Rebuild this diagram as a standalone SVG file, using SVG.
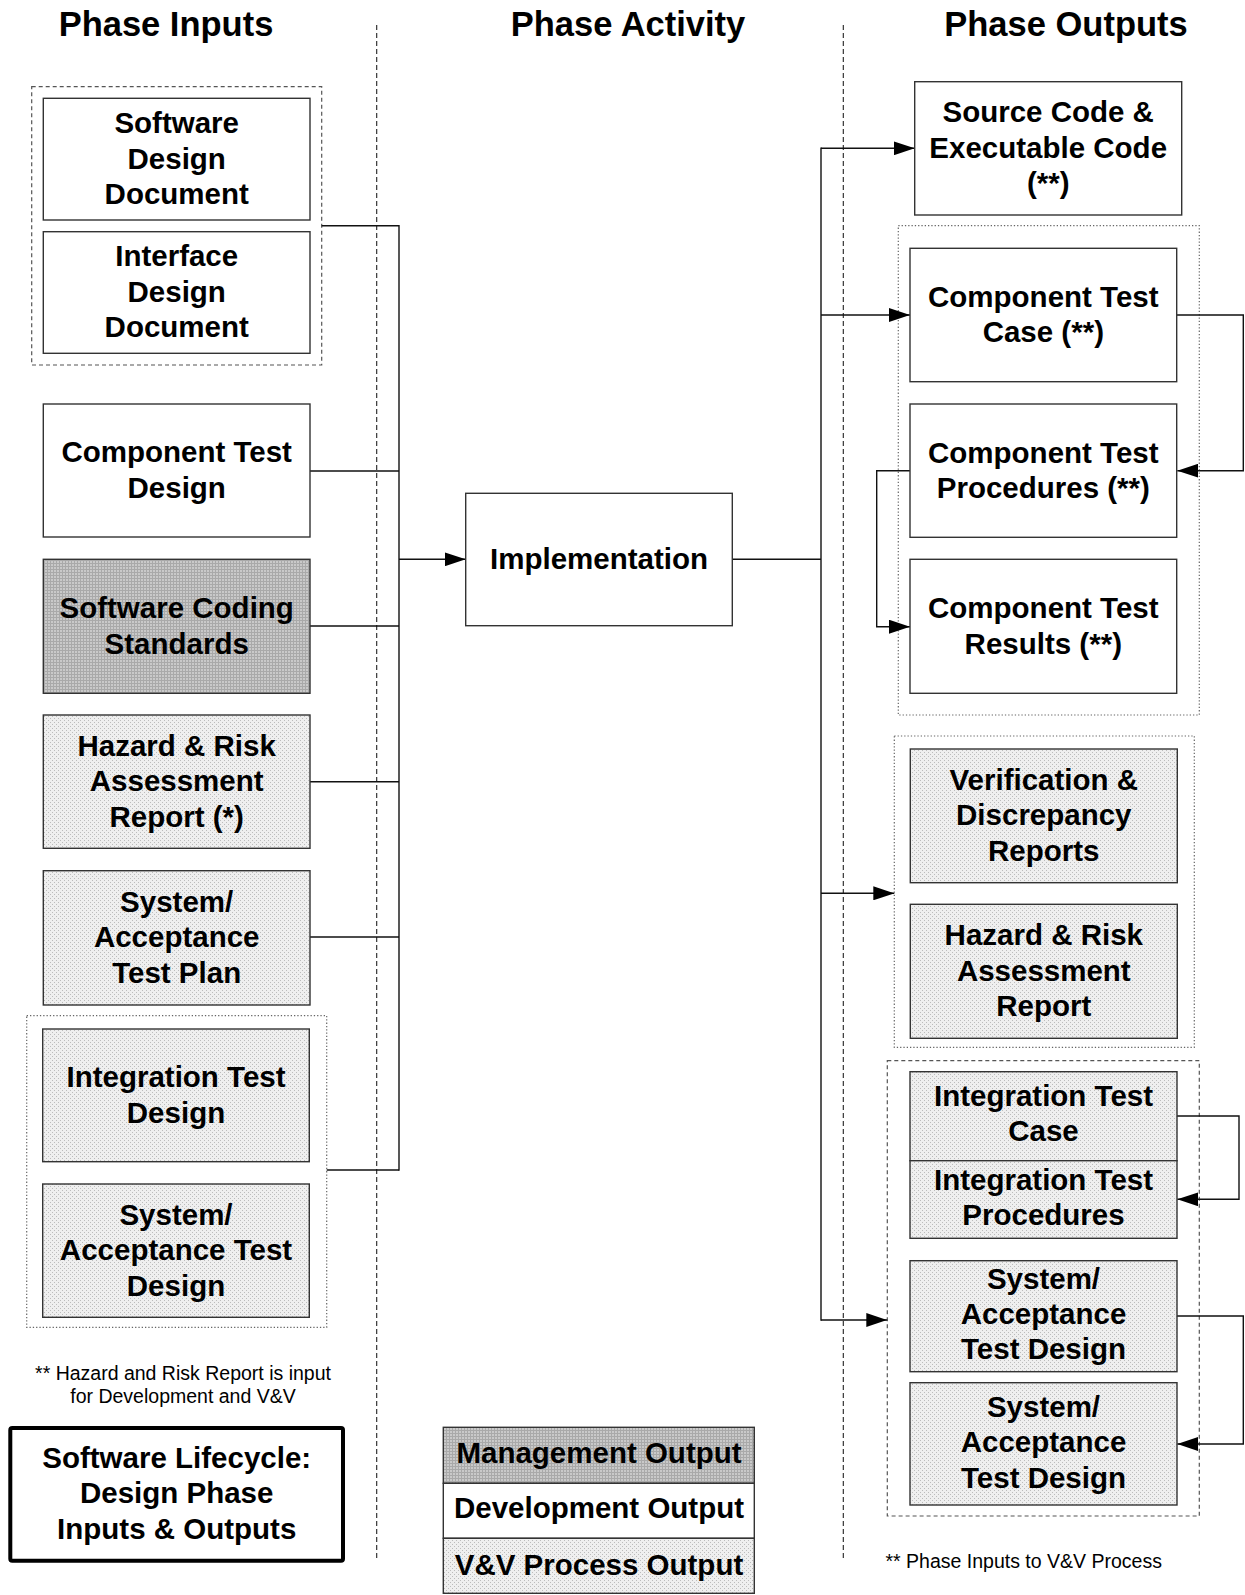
<svg xmlns="http://www.w3.org/2000/svg" width="1245" height="1595" viewBox="0 0 1245 1595">
  <style>
    .box { stroke: #333; stroke-width: 1.4; }
    .dev { fill: #fff; }
    .mgmt { fill: url(#pMgmt); }
    .vv { fill: url(#pVV); }
    .lbl { font-family: "Liberation Sans", Arial, sans-serif; font-weight: bold; font-size: 29.5px; text-anchor: middle; fill: #000; }
    .hdr { font-family: "Liberation Sans", Arial, sans-serif; font-weight: bold; font-size: 34.5px; text-anchor: middle; fill: #000; }
    .note { font-family: "Liberation Sans", Arial, sans-serif; font-size: 19.5px; text-anchor: middle; fill: #000; }
    .divider { stroke: #222; stroke-width: 1.1; stroke-dasharray: 5 3; fill: none; }
    .grp-dash { stroke: #555; stroke-width: 1.2; stroke-dasharray: 4 3; fill: none; }
    .grp-dot { stroke: #666; stroke-width: 1.2; stroke-dasharray: 1.3 2; fill: none; }
    .wire { stroke: #111; stroke-width: 1.4; fill: none; }
    .arrow { stroke: #111; stroke-width: 1.4; fill: none; marker-end: url(#head); }
  </style>
  <defs>
    <pattern id="pMgmt" width="3" height="3" patternUnits="userSpaceOnUse">
      <rect width="3" height="3" fill="#a9a9a9"/>
      <rect width="2" height="2" fill="#c9c9c9"/>
    </pattern>
    <pattern id="pVV" width="4" height="4" patternUnits="userSpaceOnUse">
      <rect width="4" height="4" fill="#efefef"/>
      <rect x="0" y="0" width="1" height="1" fill="#bcbcbc"/>
      <rect x="2" y="2" width="1" height="1" fill="#bcbcbc"/>
    </pattern>
    <marker id="head" markerUnits="userSpaceOnUse" markerWidth="21" markerHeight="14" refX="21" refY="7" orient="auto">
      <path d="M0,0 L21,7 L0,14 z" fill="#000"/>
    </marker>
  </defs>

  <rect width="1245" height="1595" fill="#fff"/>

  <!-- column headings and dividers -->
  <g id="headings">
    <text class="hdr" x="166" y="36">Phase Inputs</text>
    <text class="hdr" x="628" y="36">Phase Activity</text>
    <text class="hdr" x="1066" y="36">Phase Outputs</text>
    <line class="divider" x1="376.7" y1="25" x2="376.7" y2="1558"/>
    <line class="divider" x1="843.3" y1="25" x2="843.3" y2="1560"/>
  </g>

  <!-- grouping frames -->
  <g id="groups">
    <rect class="grp-dash" x="31.7" y="86.7" width="290" height="278.3"/>
    <rect class="grp-dot" x="26.7" y="1015.7" width="300" height="311.6"/>
    <rect class="grp-dot" x="898.3" y="225.7" width="301" height="489.3"/>
    <rect class="grp-dot" x="894.3" y="736" width="300" height="311.3"/>
    <rect class="grp-dash" x="887.3" y="1060.7" width="312" height="455.3"/>
  </g>

  <!-- connectors -->
  <g id="connectors">
    <!-- input bus -->
    <line class="wire" x1="321.7" y1="225.7" x2="399" y2="225.7"/>
    <line class="wire" x1="310" y1="471" x2="399" y2="471"/>
    <line class="wire" x1="310" y1="626" x2="399" y2="626"/>
    <line class="wire" x1="310" y1="781.7" x2="399" y2="781.7"/>
    <line class="wire" x1="310" y1="937" x2="399" y2="937"/>
    <line class="wire" x1="326.7" y1="1170" x2="399" y2="1170"/>
    <line class="wire" x1="399" y1="225" x2="399" y2="1170.7"/>
    <line class="arrow" x1="399" y1="559.3" x2="465.7" y2="559.3"/>
    <!-- output bus -->
    <line class="wire" x1="732.3" y1="559.3" x2="821" y2="559.3"/>
    <line class="wire" x1="821" y1="147.6" x2="821" y2="1320.7"/>
    <line class="arrow" x1="821" y1="148.3" x2="914.7" y2="148.3"/>
    <line class="arrow" x1="821" y1="315" x2="910" y2="315"/>
    <line class="arrow" x1="821" y1="893.3" x2="894.3" y2="893.3"/>
    <line class="arrow" x1="821" y1="1320" x2="887.3" y2="1320"/>
    <!-- component test flow -->
    <path class="arrow" d="M1176.7,315 H1243.3 V470.7 H1177.3"/>
    <path class="arrow" d="M910,470.7 H876.7 V626.7 H910"/>
    <!-- integration / system test flow -->
    <path class="arrow" d="M1177,1116 H1239 V1199.3 H1177.3"/>
    <path class="arrow" d="M1177,1316 H1243.3 V1444 H1177.3"/>
  </g>

  <!-- phase inputs -->
  <g id="in-sdd">
    <rect class="box dev" x="43.3" y="98.3" width="266.7" height="121.7"/>
    <text class="lbl" x="176.7"><tspan x="176.7" y="133.2">Software</tspan><tspan x="176.7" y="168.7">Design</tspan><tspan x="176.7" y="204.2">Document</tspan></text>
  </g>
  <g id="in-idd">
    <rect class="box dev" x="43.3" y="231.7" width="266.7" height="121.6"/>
    <text class="lbl" x="176.7"><tspan x="176.7" y="266">Interface</tspan><tspan x="176.7" y="301.5">Design</tspan><tspan x="176.7" y="337">Document</tspan></text>
  </g>
  <g id="in-ctd">
    <rect class="box dev" x="43.3" y="404" width="266.7" height="133"/>
    <text class="lbl" x="176.7"><tspan x="176.7" y="462.3">Component Test</tspan><tspan x="176.7" y="497.8">Design</tspan></text>
  </g>
  <g id="in-scs">
    <rect class="box mgmt" x="43.3" y="559.3" width="266.7" height="134"/>
    <text class="lbl" x="176.7"><tspan x="176.7" y="618.1">Software Coding</tspan><tspan x="176.7" y="653.6">Standards</tspan></text>
  </g>
  <g id="in-hazard">
    <rect class="box vv" x="43.3" y="715" width="266.7" height="133.3"/>
    <text class="lbl" x="176.7"><tspan x="176.7" y="755.7">Hazard &amp; Risk</tspan><tspan x="176.7" y="791.2">Assessment</tspan><tspan x="176.7" y="826.7">Report (*)</tspan></text>
  </g>
  <g id="in-satp">
    <rect class="box vv" x="43.3" y="870.7" width="266.7" height="134.3"/>
    <text class="lbl" x="176.7"><tspan x="176.7" y="911.8">System/</tspan><tspan x="176.7" y="947.3">Acceptance</tspan><tspan x="176.7" y="982.8">Test Plan</tspan></text>
  </g>
  <g id="in-itd">
    <rect class="box vv" x="42.7" y="1029" width="266.6" height="132.7"/>
    <text class="lbl" x="176"><tspan x="176" y="1087.1">Integration Test</tspan><tspan x="176" y="1122.6">Design</tspan></text>
  </g>
  <g id="in-satd">
    <rect class="box vv" x="42.7" y="1184" width="266.6" height="133.3"/>
    <text class="lbl" x="176"><tspan x="176" y="1224.7">System/</tspan><tspan x="176" y="1260.2">Acceptance Test</tspan><tspan x="176" y="1295.7">Design</tspan></text>
  </g>

  <!-- phase activity -->
  <g id="act-impl">
    <rect class="box dev" x="465.7" y="493.3" width="266.6" height="132.4"/>
    <text class="lbl" x="599" y="569">Implementation</text>
  </g>

  <!-- phase outputs -->
  <g id="out-code">
    <rect class="box dev" x="914.7" y="81.7" width="267" height="133.3"/>
    <text class="lbl" x="1048.2"><tspan x="1048.2" y="122.3">Source Code &amp;</tspan><tspan x="1048.2" y="157.8">Executable Code</tspan><tspan x="1048.2" y="193.3">(**)</tspan></text>
  </g>
  <g id="out-ctc">
    <rect class="box dev" x="910" y="248.3" width="266.7" height="133.4"/>
    <text class="lbl" x="1043.3"><tspan x="1043.3" y="306.8">Component Test</tspan><tspan x="1043.3" y="342.3">Case (**)</tspan></text>
  </g>
  <g id="out-ctp">
    <rect class="box dev" x="910" y="404" width="266.7" height="133.3"/>
    <text class="lbl" x="1043.3"><tspan x="1043.3" y="462.5">Component Test</tspan><tspan x="1043.3" y="498">Procedures (**)</tspan></text>
  </g>
  <g id="out-ctr">
    <rect class="box dev" x="910" y="559.3" width="266.7" height="134"/>
    <text class="lbl" x="1043.3"><tspan x="1043.3" y="618.1">Component Test</tspan><tspan x="1043.3" y="653.6">Results (**)</tspan></text>
  </g>
  <g id="out-vdr">
    <rect class="box vv" x="910.3" y="749" width="267" height="133.7"/>
    <text class="lbl" x="1043.8"><tspan x="1043.8" y="789.8">Verification &amp;</tspan><tspan x="1043.8" y="825.3">Discrepancy</tspan><tspan x="1043.8" y="860.8">Reports</tspan></text>
  </g>
  <g id="out-hazard">
    <rect class="box vv" x="910.3" y="904.3" width="267" height="134"/>
    <text class="lbl" x="1043.8"><tspan x="1043.8" y="945.3">Hazard &amp; Risk</tspan><tspan x="1043.8" y="980.8">Assessment</tspan><tspan x="1043.8" y="1016.3">Report</tspan></text>
  </g>
  <g id="out-itc">
    <rect class="box vv" x="910" y="1071.7" width="267" height="89"/>
    <text class="lbl" x="1043.5"><tspan x="1043.5" y="1106">Integration Test</tspan><tspan x="1043.5" y="1141">Case</tspan></text>
  </g>
  <g id="out-itp">
    <rect class="box vv" x="910" y="1160.7" width="267" height="77.6"/>
    <text class="lbl" x="1043.5"><tspan x="1043.5" y="1190">Integration Test</tspan><tspan x="1043.5" y="1225">Procedures</tspan></text>
  </g>
  <g id="out-satd1">
    <rect class="box vv" x="910" y="1260.7" width="267" height="111"/>
    <text class="lbl" x="1043.5"><tspan x="1043.5" y="1288.5">System/</tspan><tspan x="1043.5" y="1323.5">Acceptance</tspan><tspan x="1043.5" y="1358.5">Test Design</tspan></text>
  </g>
  <g id="out-satd2">
    <rect class="box vv" x="910" y="1382.7" width="267" height="122.3"/>
    <text class="lbl" x="1043.5"><tspan x="1043.5" y="1416.5">System/</tspan><tspan x="1043.5" y="1452">Acceptance</tspan><tspan x="1043.5" y="1487.5">Test Design</tspan></text>
  </g>

  <!-- footnotes -->
  <g id="notes">
    <text class="note" x="183"><tspan x="183" y="1380">** Hazard and Risk Report is input</tspan><tspan x="183" y="1402.7">for Development and V&amp;V</tspan></text>
    <text class="note" x="1023.7" y="1568.3">** Phase Inputs to V&amp;V Process</text>
  </g>

  <!-- title block -->
  <g id="title">
    <rect x="10.3" y="1428" width="332.7" height="132.7" rx="2" fill="#fff" stroke="#000" stroke-width="4"/>
    <text class="lbl" x="176.7"><tspan x="176.7" y="1467.7">Software Lifecycle:</tspan><tspan x="176.7" y="1503.3">Design Phase</tspan><tspan x="176.7" y="1539.3">Inputs &amp; Outputs</tspan></text>
  </g>

  <!-- legend -->
  <g id="legend">
    <rect class="box mgmt" x="443.3" y="1427.3" width="311" height="56"/>
    <rect class="box dev" x="443.3" y="1483.3" width="311" height="55"/>
    <rect class="box vv" x="443.3" y="1538.3" width="311" height="55"/>
    <text class="lbl" x="599" y="1463.3">Management Output</text>
    <text class="lbl" x="599" y="1518.3">Development Output</text>
    <text class="lbl" x="599" y="1575">V&amp;V Process Output</text>
  </g>
</svg>
